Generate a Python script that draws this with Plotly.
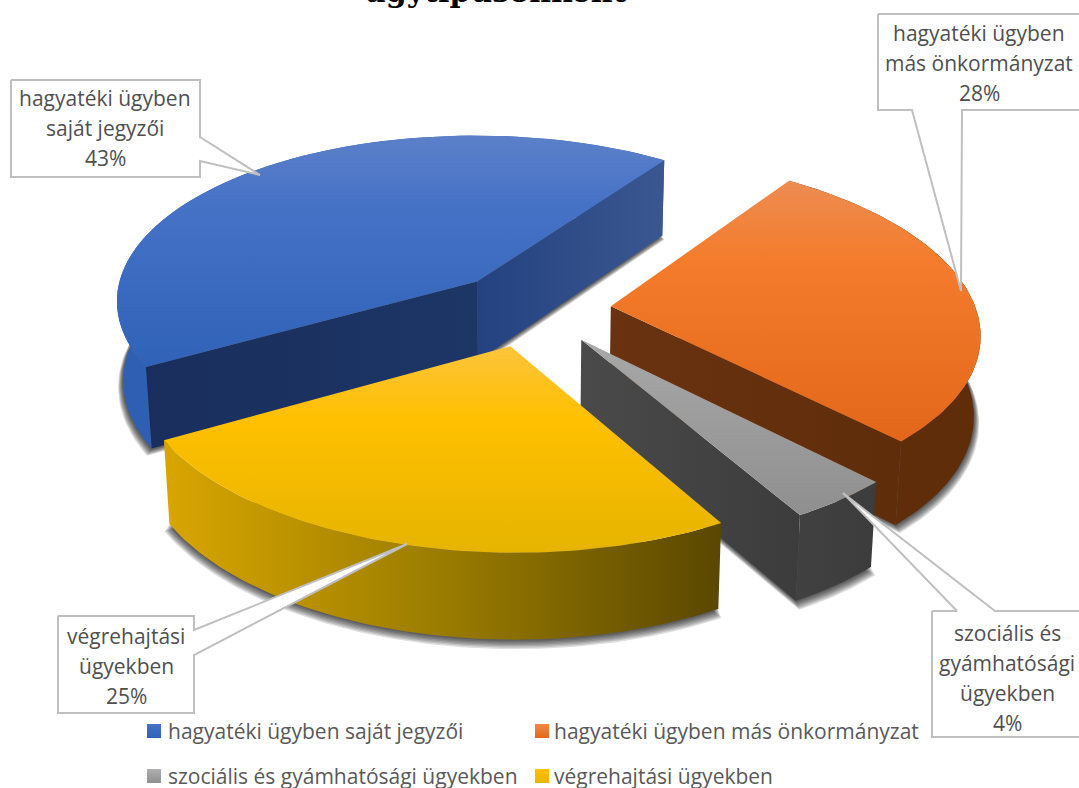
import numpy as np
import plotly.graph_objects as go

# ---- data ----
categories = ["hagyatéki ügyben saját jegyzői", "hagyatéki ügyben más önkormányzat",
              "szociális és gyámhatósági ügyekben", "végrehajtási ügyekben"]
values = [43, 28, 4, 25]
callout_lines = [["hagyatéki ügyben", "saját jegyzői"], ["hagyatéki ügyben", "más önkormányzat"],
                 ["szociális és", "gyámhatósági", "ügyekben"], ["végrehajtási", "ügyekben"]]
title_text = "ügytípusonként"

# ---- view of the 3-D pie ----
CX, CY = 531, 309
RX, RY = 365, 170.7
K = 0.125
SHEAR = 8
DEPTH = 80
BOTTOM_SCALE = 0.985
EXPLODE = 0.22
FIRST_ANGLE = 35.5

top_scale = [
    [[0, "#5c80c9"], [0.3, "#4672c6"], [1, "#2f62b8"]],
    [[0, "#ed8c52"], [0.3, "#f47c2c"], [1, "#e3671a"]],
    [[0, "#a8a8a8"], [1, "#8f8f8f"]],
    [[0, "#fcc43c"], [0.35, "#ffc000"], [1, "#e6b400"]],
]
rim_scale = [
    [[0, "#2f5fb2"], [1, "#2f5fb2"]],
    [[0, "#5f2d0a"], [1, "#5f2d0a"]],
    [[0, "#414141"], [1, "#3c3c3c"]],
    [[0, "#d9a600"], [0.5, "#9a7c00"], [1, "#5a4700"]],
]
cut_scale = {
    0: [("a", [[0, "#192e5c"], [1, "#1d3666"]]), ("b", [[0, "#23427f"], [1, "#3b5791"]])],
    1: [("b", [[0, "#6a3210"], [1, "#5f2d0a"]])],
    2: [("b", [[0, "#4a4a4a"], [1, "#3c3c3c"]])],
    3: [],
}
legend_colors = [("#4472c4", "#2f62b8"), ("#f08a45", "#e3671a"), ("#b0b0b0", "#8f8f8f"), ("#ffc000", "#e6b400")]


def project(X, Y, bottom=False, extra=0.0):
    X, Y = np.asarray(X, float), np.asarray(Y, float)
    w = 1 - K * Y
    x = CX + RX * X / w + SHEAR * Y
    y = CY + RY * Y / w
    if bottom:
        y = y + (DEPTH + extra) / np.sqrt(w)
        x = CX + (x - CX) * BOTTOM_SCALE
    return x, y


fig = go.Figure()


def poly(x, y, scale=None, kind="vertical", color=None):
    x, y = list(x), list(y)
    kw = dict(x=x + x[:1], y=y + y[:1], mode="lines", line=dict(width=0), fill="toself",
              hoverinfo="skip", showlegend=False)
    if scale is not None:
        lo, hi = (min(y), max(y)) if kind == "vertical" else (min(x), max(x))
        kw["fillgradient"] = dict(type=kind, colorscale=scale, start=lo, stop=hi)
    else:
        kw["fillcolor"] = color
    fig.add_trace(go.Scatter(**kw))


angle = FIRST_ANGLE - values[0] * 3.6
for i, v in enumerate(values):
    a0, a1 = angle, angle + v * 3.6
    angle = a1
    mid = np.radians((a0 + a1) / 2)
    ex, ey = EXPLODE * np.sin(mid), -EXPLODE * np.cos(mid)
    th = np.radians(np.linspace(a0, a1, 90))
    RX_, RY_ = ex + np.sin(th), ey - np.cos(th)

    # soft shadow
    for s in np.arange(7, 0, -1) * 0.002:
        sx, sy = ex + (1 + s) * np.sin(th), ey - (1 + s) * np.cos(th)
        bx, by = project(sx, sy, True, s * 400)
        ax, ay = project([ex], [ey], True, s * 400)
        poly(list(ax) + list(bx), list(ay) + list(by), color="rgba(0,0,0,0.13)")

    tx, ty = project(RX_, RY_)
    bx, by = project(RX_, RY_, True)
    apx, apy = project([ex], [ey])
    abx, aby = project([ex], [ey], True)

    # curved outer wall
    poly(list(tx) + list(bx[::-1]), list(ty) + list(by[::-1]), rim_scale[i], "horizontal")
    # straight cut walls
    for side, sc in cut_scale[i]:
        k = 0 if side == "a" else -1
        poly([apx[0], tx[k], bx[k], abx[0]], [apy[0], ty[k], by[k], aby[0]], sc, "horizontal")
    # top face
    poly(list(apx) + list(tx), list(apy) + list(ty), top_scale[i], "vertical")

# ---- call-out boxes ----
LINE = "#bfbfbf"
box_paths = [
    [(11, 80), (200, 80), (200, 137), (260, 175), (200, 161), (200, 177), (11, 177)],
    [(878, 14), (1090, 14), (1090, 110), (962, 110), (961, 291), (912, 110), (878, 110)],
    [(932, 611), (957, 611), (843, 493), (995, 611), (1090, 611), (1090, 737), (932, 737)],
    [(58, 616), (194, 616), (194, 630), (407, 544), (194, 655), (194, 713), (58, 713)],
]
for p in box_paths:
    xs, ys = zip(*p)
    fig.add_trace(go.Scatter(x=list(xs) + [xs[0]], y=list(ys) + [ys[0]], mode="lines", fill="toself",
                             fillcolor="white", line=dict(color=LINE, width=2), hoverinfo="skip",
                             showlegend=False))

LABEL_FONT = "Open Sans"
label_anchor = [(105, 98), (979, 33), (1007, 633), (126, 636)]
LINE_STEP = 30
for i, (lines, (ax, ay)) in enumerate(zip(callout_lines, label_anchor)):
    for j, line in enumerate(lines + [f"{values[i]}%"]):
        fig.add_annotation(x=ax, y=ay + j * LINE_STEP, text=line, showarrow=False, xanchor="center", yanchor="middle",
                           font=dict(family=LABEL_FONT, size=21, color="#505050"))

# ---- legend ----
legend_pos = [(154, 731), (542, 731), (154, 776), (542, 776)]
legend_text_x = [166, 552, 166, 552]
for name, (lx, ly), tx_, (c0, c1) in zip(categories, legend_pos, legend_text_x, legend_colors):
    fig.add_trace(go.Scatter(x=[lx], y=[ly], mode="markers", hoverinfo="skip", showlegend=False,
                             marker=dict(symbol="square", size=14, color=c0, line=dict(width=0),
                                         gradient=dict(type="vertical", color=c1))))
    fig.add_annotation(x=tx_, y=ly, text=name, showarrow=False, xanchor="left", yanchor="middle",
                       font=dict(family=LABEL_FONT, size=21, color="#595959"))

fig.add_annotation(x=495, y=11, text=f"<b>{title_text}</b>", showarrow=False, xanchor="center", yanchor="bottom",
                   font=dict(family="DejaVu Serif", size=30, color="#000000"))

fig.update_layout(
    width=1079, height=788, margin=dict(l=0, r=0, t=0, b=0), paper_bgcolor="white", plot_bgcolor="white",
    xaxis=dict(range=[0, 1079], visible=False, fixedrange=True),
    yaxis=dict(range=[788, 0], visible=False, fixedrange=True),
    showlegend=False,
)
fig.write_html("out.html", config=dict(displayModeBar=False), post_script="document.body.style.margin='0';")
